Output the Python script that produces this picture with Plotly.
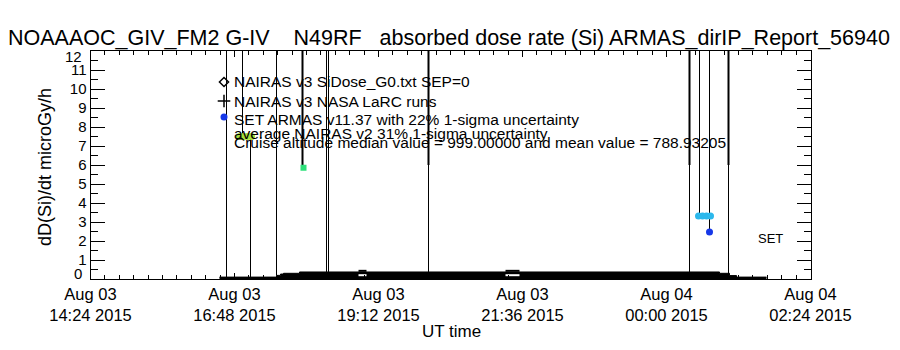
import plotly.graph_objects as go

# ---------------------------------------------------------------- data
# dose-rate profile along the flight track (drawn as a filled step band)
profile_time = ["2015-08-03 16:33", "2015-08-03 17:30", "2015-08-03 17:34", "2015-08-03 17:37",
                "2015-08-03 17:53", "2015-08-04 00:53", "2015-08-04 01:03", "2015-08-04 01:10",
                "2015-08-04 01:40"]
profile_dose = [0.10, 0.19, 0.26, 0.30, 0.37, 0.30, 0.18, 0.10, 0.10]

# uncertainty bars (thin)
bar_time = ["2015-08-03 16:40", "2015-08-03 16:56", "2015-08-03 17:04", "2015-08-03 17:30",
            "2015-08-03 18:20", "2015-08-03 18:22", "2015-08-03 20:02", "2015-08-04 00:23",
            "2015-08-04 00:33", "2015-08-04 00:43", "2015-08-04 00:43", "2015-08-04 01:02"]
bar_low = [0.10, 7.50, 0.10, 0.19, 0.37, 0.37, 0.37, 0.37, 3.32, 3.32, 2.47, 0.19]
bar_high = [12.0, 12.0, 7.50, 12.0, 12.0, 12.0, 6.00, 6.00, 12.0, 12.0, 3.32, 6.00]

# uncertainty bars (heavy upper parts)
upper_bar_time = ["2015-08-03 17:56", "2015-08-03 20:02", "2015-08-04 00:23", "2015-08-04 01:02"]
upper_bar_low = [5.85, 6.00, 6.00, 6.00]
upper_bar_high = [12.0, 12.0, 12.0, 12.0]

# average NAIRAS v2
nairas_v2_time = ["2015-08-03 16:53", "2015-08-03 16:57", "2015-08-03 17:01", "2015-08-03 17:05"]
nairas_v2_dose = [7.50, 7.50, 7.50, 7.50]
# NAIRAS v3
nairas_v3_time = ["2015-08-03 17:57"]
nairas_v3_dose = [5.85]
# ARMAS averages and SET point
armas_avg_time = ["2015-08-04 00:32", "2015-08-04 00:36", "2015-08-04 00:40", "2015-08-04 00:44"]
armas_avg_dose = [3.32, 3.32, 3.32, 3.32]
armas_set_time = ["2015-08-04 00:43"]
armas_set_dose = [2.47]

# cruise-segment markers inside the profile band
cruise_start = ["2015-08-03 18:52", "2015-08-03 21:19"]
cruise_end = ["2015-08-03 19:00", "2015-08-03 21:33"]
cruise_low = [0.20, 0.20]
cruise_high = [0.43, 0.43]

y_tick_values = [1, 2, 3, 4, 5, 6, 7, 8, 9, 10, 11]

legend_lines = [
    "NAIRAS v3 SiDose_G0.txt SEP=0",
    "NAIRAS v3 NASA LaRC runs",
    "SET ARMAS v11.37 with 22% 1-sigma uncertainty",
    "average NAIRAS v2 31% 1-sigma uncertainty",
    "Cruise altitude median value = 999.00000 and mean value = 788.93205",
]
title_text = ("NOAAAOC_GIV_FM2 G-IV\u00a0\u00a0\u00a0 N49RF\u00a0\u00a0 absorbed dose rate (Si) "
              "ARMAS_dirIP_Report_56940")

# ---------------------------------------------------------------- layout constants
W, H = 900, 350
PX0, PX1, PY0, PY1 = 90.5, 810.5, 51, 279   # plot box in pixels
FONT = "Liberation Sans"
YELLOWGREEN = "#a8e03a"
GREEN = "#2ee07a"
CYAN = "#2cb8ec"
BLUE = "#1638e8"


def segments(times, lows, highs):
    xs, ys = [], []
    for t, lo, hi in zip(times, lows, highs):
        xs += [t, t, None]
        ys += [lo, hi, None]
    return xs, ys


fig = go.Figure()

fig.add_trace(go.Scatter(x=profile_time, y=profile_dose, mode="lines", line_shape="hv",
                         fill="tozeroy", fillcolor="black", line=dict(color="black", width=1)))

cx_w, cy_w = [], []
cx_b, cy_b = [], []
for t0, t1, lo, hi in zip(cruise_start, cruise_end, cruise_low, cruise_high):
    cx_w += [t0, t1, None]
    cy_w += [lo, lo, None]
    cx_b += [t0, t1, None]
    cy_b += [hi, hi, None]
fig.add_trace(go.Scatter(x=cx_w, y=cy_w, mode="lines", line=dict(color="white", width=2)))
fig.add_trace(go.Scatter(x=cx_b, y=cy_b, mode="lines", line=dict(color="black", width=2)))

bx, by = segments(bar_time, bar_low, bar_high)
fig.add_trace(go.Scatter(x=bx, y=by, mode="lines", line=dict(color="black", width=1)))
ux, uy = segments(upper_bar_time, upper_bar_low, upper_bar_high)
fig.add_trace(go.Scatter(x=ux, y=uy, mode="lines", line=dict(color="black", width=2)))

fig.add_trace(go.Scatter(x=nairas_v2_time, y=nairas_v2_dose, mode="markers",
                         marker=dict(symbol="circle", size=7, color=YELLOWGREEN)))
fig.add_trace(go.Scatter(x=nairas_v3_time, y=nairas_v3_dose, mode="markers",
                         marker=dict(symbol="square", size=6, color=GREEN)))
fig.add_trace(go.Scatter(x=armas_avg_time, y=armas_avg_dose, mode="markers",
                         marker=dict(symbol="circle", size=7, color=CYAN)))
fig.add_trace(go.Scatter(x=armas_set_time, y=armas_set_dose, mode="markers",
                         marker=dict(symbol="circle", size=7, color=BLUE)))

# key glyphs, placed on a pixel-space overlay axis
fig.add_trace(go.Scatter(x=[224], y=[82], xaxis="x2", yaxis="y2", mode="markers",
                         marker=dict(symbol="diamond-open", size=7, color="black",
                                     line=dict(width=1.5, color="black"))))
fig.add_trace(go.Scatter(x=[224], y=[101], xaxis="x2", yaxis="y2", mode="markers",
                         marker=dict(symbol="cross-thin-open", size=9, color="black",
                                     line=dict(width=1.5, color="black"))))
fig.add_trace(go.Scatter(x=[224], y=[117], xaxis="x2", yaxis="y2", mode="markers",
                         marker=dict(symbol="circle", size=7, color=BLUE)))

annotations = []
for txt, yy in zip(legend_lines, [81, 101, 119, 133, 142]):
    annotations.append(dict(x=232, y=yy, xref="x2", yref="y2", text=txt, showarrow=False,
                            xanchor="left", yanchor="middle",
                            font=dict(family=FONT, size=15.5, color="black")))
annotations.append(dict(x=770, y=238, xref="x2", yref="y2", text="SET", showarrow=False,
                        xanchor="center", yanchor="middle",
                        font=dict(family=FONT, size=13, color="black")))
annotations.append(dict(x=449, y=38, xref="x2", yref="y2", text=title_text, showarrow=False,
                        xanchor="center", yanchor="middle",
                        font=dict(family=FONT, size=21.5, color="black")))
# end labels of the dose axis
annotations.append(dict(x=84, y=273, xref="x2", yref="y2", text="0", showarrow=False,
                        xanchor="right", yanchor="middle",
                        font=dict(family=FONT, size=15, color="black")))
annotations.append(dict(x=84, y=56, xref="x2", yref="y2", text="12", showarrow=False,
                        xanchor="right", yanchor="middle",
                        font=dict(family=FONT, size=15, color="black")))
annotations.append(dict(x=45, y=167, xref="x2", yref="y2", text="dD(Si)/dt microGy/h",
                        textangle=-90, showarrow=False, xanchor="center", yanchor="middle",
                        font=dict(family=FONT, size=18, color="black")))
annotations.append(dict(x=451, y=331, xref="x2", yref="y2", text="UT time", showarrow=False,
                        xanchor="center", yanchor="middle",
                        font=dict(family=FONT, size=17, color="black")))

fig.update_layout(
    width=W, height=H, margin=dict(l=0, r=0, t=0, b=0, autoexpand=False),
    paper_bgcolor="white", plot_bgcolor="rgba(0,0,0,0)", showlegend=False,
    annotations=annotations,
    xaxis=dict(
        domain=[PX0 / W, PX1 / W], type="date",
        range=["2015-08-03 14:24", "2015-08-04 02:24"],
        tickmode="linear", tick0="2015-08-03 14:24", dtick=144 * 60 * 1000,
        tickformat="%b %d<br>%H:%M %Y",
        ticks="inside", ticklen=6, tickcolor="black", tickwidth=1,
        minor=dict(tick0="2015-08-03 14:24", dtick=14.4 * 60 * 1000, ticks="inside",
                   ticklen=4, tickcolor="black", tickwidth=1, showgrid=False),
        showline=True, linecolor="black", linewidth=1, mirror="ticks",
        showgrid=False, zeroline=False, automargin=False,
        tickfont=dict(family=FONT, size=16.5, color="black"),
    ),
    yaxis=dict(
        domain=[1 - PY1 / H, 1 - PY0 / H], range=[0, 12],
        tickmode="array", tickvals=y_tick_values,
        ticks="inside", ticklen=14, tickcolor="black", tickwidth=1,
        minor=dict(tick0=0, dtick=0.5, ticks="inside", ticklen=7, tickcolor="black",
                   tickwidth=1, showgrid=False),
        showline=True, linecolor="black", linewidth=1, mirror="ticks",
        showgrid=False, zeroline=False, automargin=False,
        tickfont=dict(family=FONT, size=15, color="black"),
    ),
    xaxis2=dict(domain=[0, 1], range=[0, W], visible=False, anchor="y2", fixedrange=True),
    yaxis2=dict(domain=[0, 1], range=[H, 0], visible=False, anchor="x2", fixedrange=True),
)

fig.write_html("out.html")
